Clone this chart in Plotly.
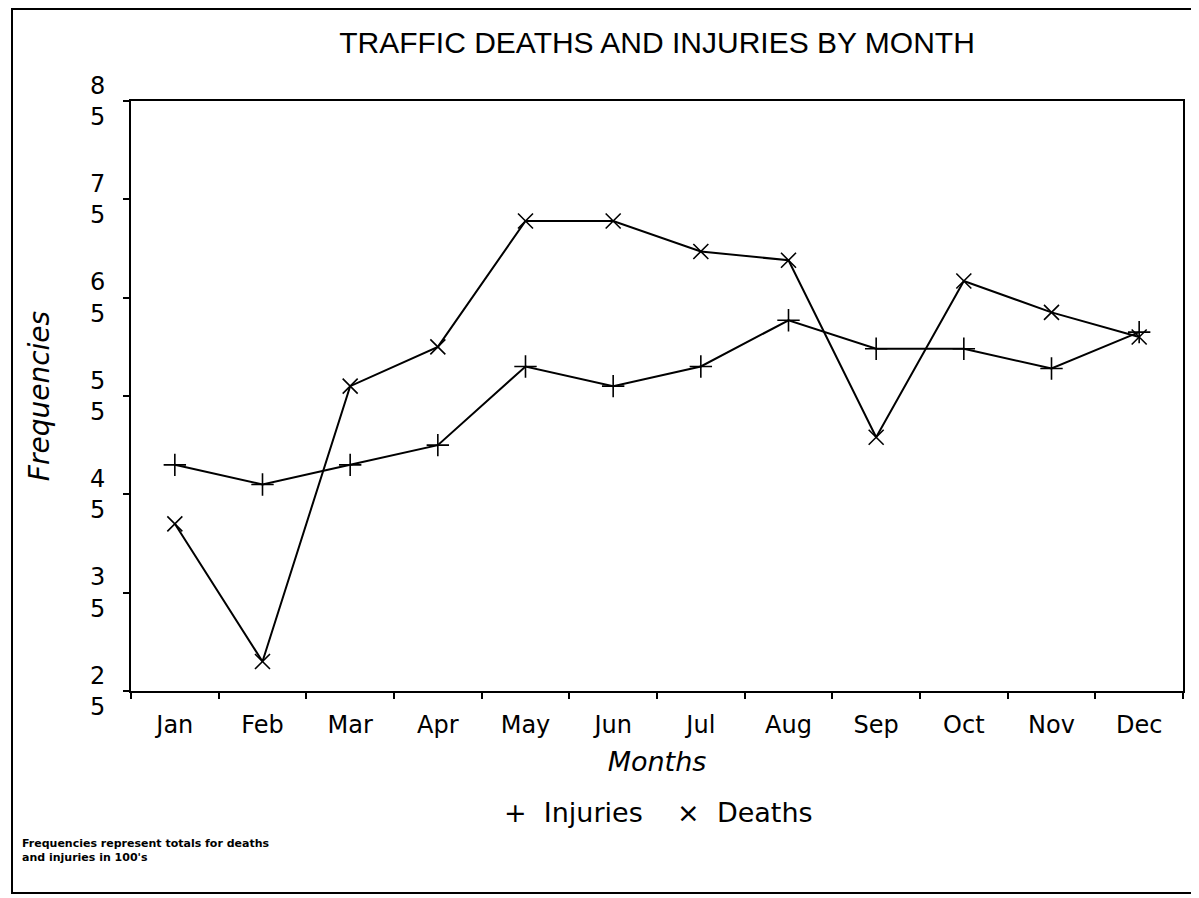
import plotly.graph_objects as go

months = ["Jan", "Feb", "Mar", "Apr", "May", "Jun", "Jul", "Aug", "Sep", "Oct", "Nov", "Dec"]
injuries = [48, 46, 48, 50, 58, 56, 58, 62.7, 59.8, 59.8, 57.8, 61.5]
deaths = [42, 28, 56, 60, 72.8, 72.8, 69.7, 68.8, 50.8, 66.7, 63.5, 61]
ytick_vals = [25, 35, 45, 55, 65, 75, 85]
ytick_text = ["2<br>5", "3<br>5", "4<br>5", "5<br>5", "6<br>5", "7<br>5", "8<br>5"]

TITLE_FONT = "Liberation Sans, Arial, sans-serif"
FONT = "DejaVu Sans, sans-serif"

# page is offset by the 8px body margin; figure coords = page coords - 8
W, H = 1191, 890
L, R, T, B = 123, 16, 93, 207
PW, PH = W - L - R, H - T - B


def px(fx):
    return (fx - L) / PW


def py(fy):
    return (H - B - fy) / PH


fig = go.Figure()
fig.add_trace(go.Scatter(
    x=months, y=injuries, mode="lines+markers", name="Injuries",
    line=dict(color="black", width=2),
    marker=dict(symbol="cross-thin", size=16, line=dict(color="black", width=1.6)),
))
fig.add_trace(go.Scatter(
    x=months, y=deaths, mode="lines+markers", name="Deaths",
    line=dict(color="black", width=2),
    marker=dict(symbol="x-thin", size=15, line=dict(color="black", width=1.6)),
))

fig.update_layout(
    width=W, height=H,
    paper_bgcolor="white", plot_bgcolor="white",
    margin=dict(l=L, r=R, t=T, b=B),
    showlegend=False,
    font=dict(family=FONT, color="black"),
    title=dict(text="TRAFFIC DEATHS AND INJURIES BY MONTH", x=649 / W, xanchor="center",
               y=1 - 34 / H, yanchor="middle",
               font=dict(size=30, family=TITLE_FONT, color="black")),
)
fig.update_xaxes(
    type="category", categoryorder="array", categoryarray=months,
    range=[-0.5, 11.5],
    tickson="boundaries", ticks="outside", ticklen=6, tickwidth=2, tickcolor="black",
    ticklabelstandoff=11,
    showline=True, linecolor="black", linewidth=2, mirror=True,
    showgrid=False, zeroline=False,
    tickfont=dict(size=24, family=FONT),
    title=dict(text="<i>Months</i>", font=dict(size=27, family=FONT), standoff=14),
)
fig.update_yaxes(
    range=[25, 85], tickvals=ytick_vals, ticktext=ytick_text,
    ticks="outside", ticklen=6, tickwidth=2, tickcolor="black",
    ticklabelstandoff=13,
    showline=True, linecolor="black", linewidth=2, mirror=True,
    showgrid=False, zeroline=False,
    tickfont=dict(size=24, family=FONT),
    title=dict(text="<i>Frequencies</i>", font=dict(size=28, family=FONT), standoff=32),
)

fig.add_annotation(
    text="+  Injuries    \u00d7  Deaths", xref="paper", yref="paper",
    x=px(650), y=py(804), xanchor="center", yanchor="middle",
    showarrow=False, font=dict(size=27, family=FONT, color="black"),
)
for line_text, fy in [("Frequencies represent totals for deaths", 835),
                      ("and injuries in 100's", 849)]:
    fig.add_annotation(
        text="<b>" + line_text + "</b>",
        xref="paper", yref="paper", x=px(12), y=py(fy),
        xanchor="left", yanchor="middle", align="left", showarrow=False,
        font=dict(size=11, family=FONT, color="black"),
    )
fig.add_shape(
    type="rect", xref="paper", yref="paper",
    x0=px(4), x1=px(1189), y0=py(885), y1=py(1),
    line=dict(color="black", width=2),
)

fig.write_html("out.html")
